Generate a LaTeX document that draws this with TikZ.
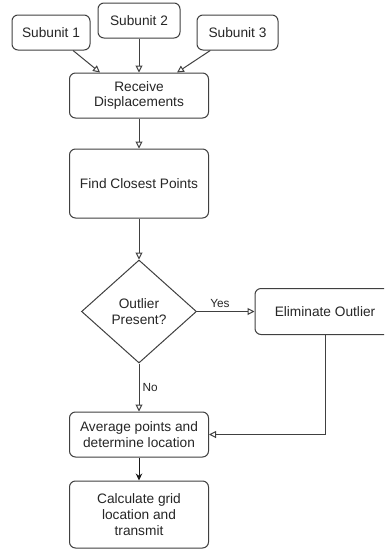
\documentclass[tikz,border=0pt]{standalone}
\usepackage{fontspec}
\setmainfont{Liberation Sans}
\usepackage{tikz}
\usetikzlibrary{arrows.meta,positioning,shapes.geometric}
\tikzset{
  fc/.style={x=1pt, y=-1pt, >={Triangle[open, length=7pt, width=7pt]},
             every node/.style={font=\fontsize{13.7}{15.7}\selectfont, text=black!85, align=center}},
  box/.style={draw=black!75, line width=1pt, rounded corners=6pt, fill=white, minimum width=139pt, inner sep=2pt},
  unit/.style={box, minimum width=80pt, minimum height=35pt},
  test/.style={draw=black!75, line width=1pt, diamond, fill=white, minimum width=115pt, minimum height=103pt, inner sep=0pt},
  flow/.style={->, draw=black!75, line width=1pt},
  done/.style={flow, -{Stealth[length=7pt, width=6.5pt]}, draw=black!90},
  lbl/.style={font=\fontsize{11.8}{14}\selectfont, inner sep=3pt}
}

\begin{document}
\begin{tikzpicture}[fc]
\useasboundingbox (0,0) rectangle (384,550);
\clip (0,0) rectangle (384,550);
% inputs
\node[unit, minimum width=78pt] (sub1) at (51,32.5) {Subunit 1};
\node[unit, minimum width=82pt] (sub2) at (139,20.5) {Subunit 2};
\node[unit, minimum width=81pt] (sub3) at (237.5,32.5) {Subunit 3};
% main flow
\node[box, minimum height=45pt] (recv) at (139,95.5) {Receive\\Displacements};
\node[box, minimum height=69pt] (find) at (139,183.5) {Find Closest Points};
\node[test] (dec) at (139,311.5) {Outlier\\Present?};
\node[box, minimum width=140pt, minimum height=46pt] (elim) at (325,311.5) {Eliminate Outlier};
\node[box, minimum height=45pt] (avg) at (139,434.5) {Average points and\\determine location};
\node[box, minimum height=67pt] (calc) at (139,514.5) {Calculate grid\\location and\\transmit};

\draw[flow] (sub1) -- ([xshift=-39pt]recv.north);
\draw[flow] (sub2) -- (recv);
\draw[flow] (sub3) -- ([xshift=38pt]recv.north);
\draw[flow] (recv) -- (find);
\draw[flow] (find) -- (dec);
\draw[flow] (dec) -- node[lbl, above, pos=0.4] (yes) {Yes} (elim);
\draw[flow] (dec) -- node[lbl, right] (no) {No} (avg);
\draw[flow] (elim.south) |- (avg);
\draw[done] (avg) -- (calc);
\end{tikzpicture}
\end{document}
